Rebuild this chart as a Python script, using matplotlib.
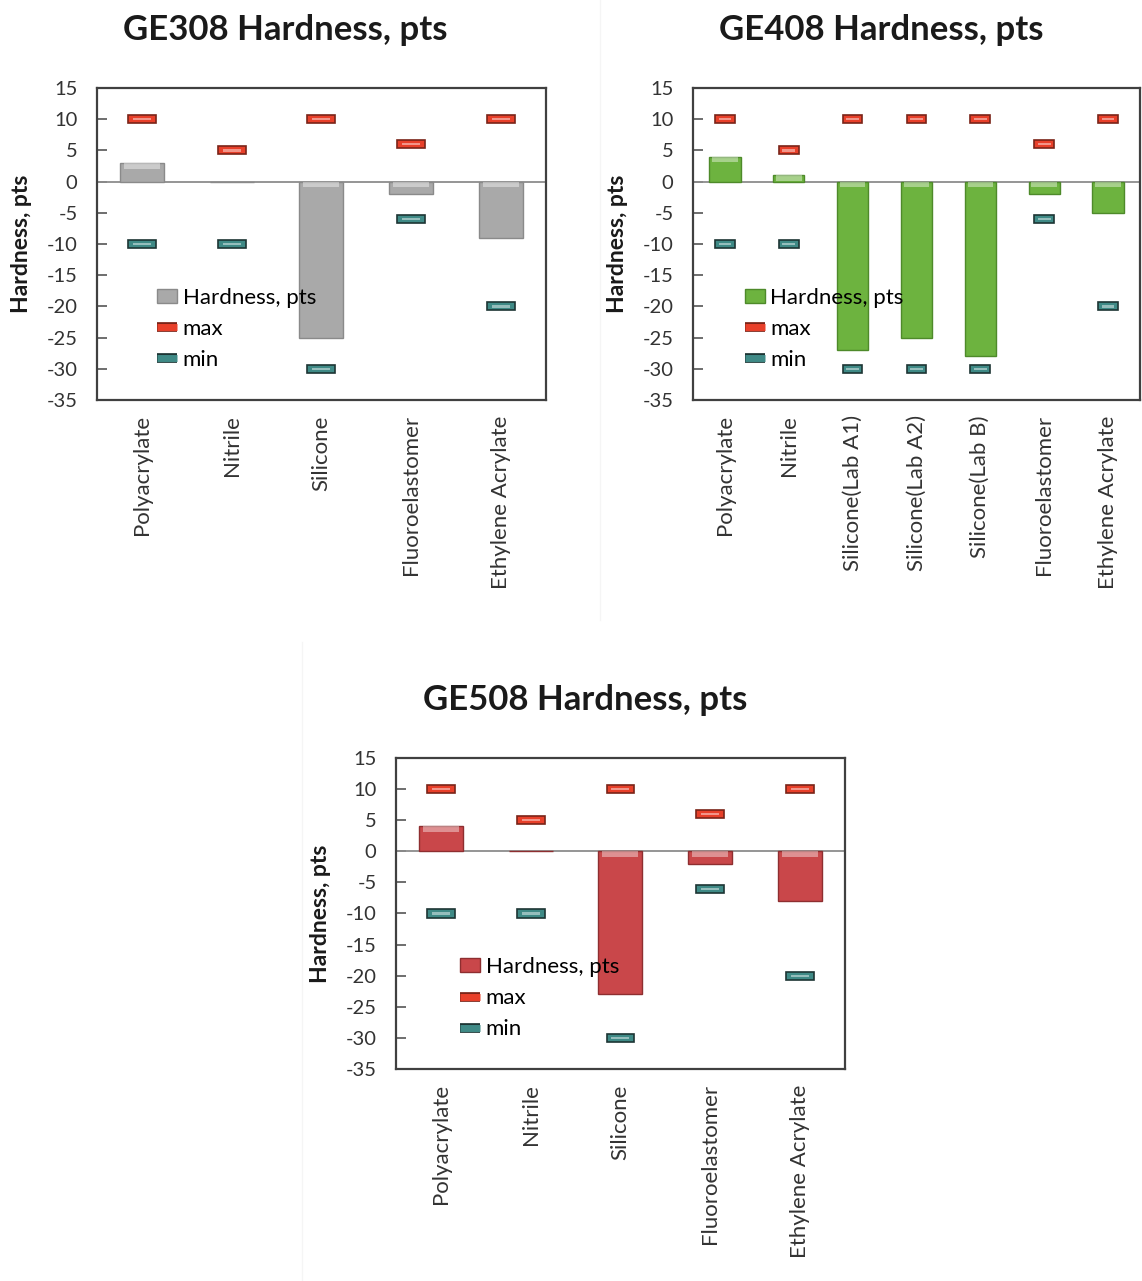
import matplotlib
matplotlib.use("Agg")
import matplotlib.pyplot as plt
import matplotlib.patheffects as pe
from matplotlib.patches import Patch
from matplotlib.lines import Line2D
import numpy as np

plt.rcParams['font.family'] = ['Lato', 'DejaVu Sans']
plt.rcParams['axes.unicode_minus'] = False

cats_308 = ["Polyacrylate", "Nitrile", "Silicone", "Fluoroelastomer", "Ethylene Acrylate"]
hard_308 = [3, 0, -25, -2, -9]
max_308 = [10, 5, 10, 6, 10]
min_308 = [-10, -10, -30, -6, -20]

cats_408 = ["Polyacrylate", "Nitrile", "Silicone(Lab A1)", "Silicone(Lab A2)", "Silicone(Lab B)",
            "Fluoroelastomer", "Ethylene Acrylate"]
hard_408 = [4, 1, -27, -25, -28, -2, -5]
max_408 = [10, 5, 10, 10, 10, 6, 10]
min_408 = [-10, -10, -30, -30, -30, -6, -20]

cats_508 = ["Polyacrylate", "Nitrile", "Silicone", "Fluoroelastomer", "Ethylene Acrylate"]
hard_508 = [4, 0, -23, -2, -8]
max_508 = [10, 5, 10, 6, 10]
min_508 = [-10, -10, -30, -6, -20]

yticks = [15, 10, 5, 0, -5, -10, -15, -20, -25, -30, -35]

RED, RED_EDGE = "#e8402a", "#7a2418"
TEAL, TEAL_EDGE = "#3f8a86", "#1d3534"


def panel(ax, cats, hard, mx, mn, face, edge, legx):
    x = np.arange(len(cats))
    hard = np.array(hard, dtype=float)
    ax.bar(x, hard, width=0.49, color=face, edgecolor=edge, linewidth=1, zorder=3)
    # light rim at the upper end of each bar
    top = np.maximum(hard, 0)
    h = np.minimum(np.abs(hard), 0.9)
    ax.bar(x, h, bottom=top - h, width=0.40, color="white", alpha=0.4, linewidth=0, zorder=4)
    for vals, c, ec in ((mx, RED, RED_EDGE), (mn, TEAL, TEAL_EDGE)):
        v = np.array(vals, dtype=float)
        ax.bar(x, 1.3, bottom=v - 0.65, width=0.31, color=c, edgecolor=ec, linewidth=1.2, zorder=5)
        ax.bar(x, 0.35, bottom=v - 0.175, width=0.2, color="white", alpha=0.45, linewidth=0, zorder=6)
    ax.axhline(0, color="#8c8c8c", linewidth=1.3, zorder=2)
    ax.set_xlim(-0.5, len(cats) - 0.5)
    ax.set_ylim(-35, 15)
    ax.set_yticks(yticks)
    ax.set_xticks(x)
    ax.set_xticklabels(cats, rotation=90, fontsize=16, color="#333333")
    ax.tick_params(axis="x", length=0, pad=11)
    ax.tick_params(axis="y", direction="in", length=7, pad=14, labelsize=14.5, labelcolor="#333333",
                   color="#555555", width=1.2)
    for s in ax.spines.values():
        s.set_color("#404040")
        s.set_linewidth(1.6)
    ax.set_ylabel("Hardness, pts", fontsize=16.5, fontweight="bold", color="#1a1a1a")
    ax.yaxis.set_label_coords(-0.145, 0.5)
    handles = [Patch(facecolor=face, edgecolor=edge),
               Line2D([0], [0], color=RED, lw=5, solid_capstyle="butt",
                      path_effects=[pe.Stroke(linewidth=7, foreground=RED_EDGE), pe.Normal()]),
               Line2D([0], [0], color=TEAL, lw=5, solid_capstyle="butt",
                      path_effects=[pe.Stroke(linewidth=7, foreground=TEAL_EDGE), pe.Normal()])]
    ax.legend(handles, ["Hardness, pts", "max", "min"], loc="upper left", bbox_to_anchor=(legx, 0.36),
              frameon=False, fontsize=16, handlelength=0.9, handleheight=0.6, handletextpad=0.25,
              labelspacing=0.5, borderpad=0, borderaxespad=0)


fig = plt.figure(figsize=(11.42, 12.81), dpi=100)
# faint panel borders
fig.add_artist(Line2D([600 / 1142, 600 / 1142], [1 - 620 / 1281, 1], color="#f5f5f5", lw=1))
fig.add_artist(Line2D([302 / 1142, 302 / 1142], [0, 1 - 642 / 1281], color="#f5f5f5", lw=1))

ax1 = fig.add_axes([0.0849, 0.6877, 0.393, 0.2436])
ax2 = fig.add_axes([0.6068, 0.6877, 0.3914, 0.2436])
ax3 = fig.add_axes([0.3468, 0.1655, 0.393, 0.2428])

panel(ax1, cats_308, hard_308, max_308, min_308, "#a9a9a9", "#8a8a8a", 0.134)
panel(ax2, cats_408, hard_408, max_408, min_408, "#6db33f", "#4e8a2a", 0.116)
panel(ax3, cats_508, hard_508, max_508, min_508, "#c9474a", "#8e2e30", 0.143)

title_kw = dict(ha="center", va="center", fontsize=25, fontweight="bold", color="#1a1a1a")
fig.text(0.2495, 0.9766, "GE308 Hardness, pts", **title_kw)
fig.text(0.772, 0.9766, "GE408 Hardness, pts", **title_kw)
fig.text(0.512, 0.4536, "GE508 Hardness, pts", **title_kw)

fig.savefig("out.png", dpi=100, facecolor="white")
